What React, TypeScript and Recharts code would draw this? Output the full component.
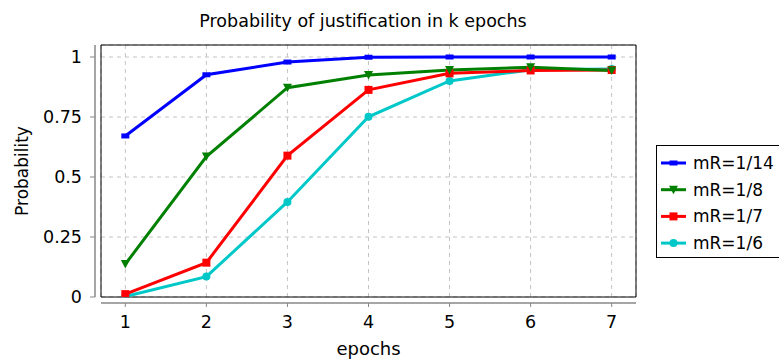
import { LineChart, Line, XAxis, YAxis, CartesianGrid, ReferenceArea } from 'recharts'

const epochs = [1, 2, 3, 4, 5, 6, 7]
const yTicks = [0, 0.25, 0.5, 0.75, 1]

const mR14 = [0.671, 0.926, 0.979, 0.999, 1.0, 1.0, 1.0]
const mR8 = [0.137, 0.585, 0.872, 0.925, 0.946, 0.957, 0.944]
const mR7 = [0.012, 0.143, 0.589, 0.863, 0.932, 0.944, 0.946]
const mR6 = [0.002, 0.085, 0.396, 0.751, 0.9, 0.947, 0.95]

const seriesLabels = ['mR=1/14', 'mR=1/8', 'mR=1/7', 'mR=1/6']

const data = epochs.map((e, i) => ({
  epoch: e,
  mR14: mR14[i],
  mR8: mR8[i],
  mR7: mR7[i],
  mR6: mR6[i],
}))

const font = '"DejaVu Sans", sans-serif'

type Shape = 'bar' | 'tri' | 'square' | 'circle'

function Marker({ cx, cy, color, shape }: { cx: number; cy: number; color: string; shape: Shape }) {
  if (shape === 'bar') return <rect x={cx - 4} y={cy - 2.5} width={8} height={5} fill={color} />
  if (shape === 'tri')
    return <polygon points={`${cx - 4.5},${cy - 4} ${cx + 4.5},${cy - 4} ${cx},${cy + 4.5}`} fill={color} />
  if (shape === 'square') return <rect x={cx - 4} y={cy - 4} width={8} height={8} fill={color} />
  return <circle cx={cx} cy={cy} r={4} fill={color} />
}

const series = [
  { key: 'mR14', label: seriesLabels[0], color: '#0000ff', shape: 'bar' as Shape },
  { key: 'mR8', label: seriesLabels[1], color: '#008000', shape: 'tri' as Shape },
  { key: 'mR7', label: seriesLabels[2], color: '#ff0000', shape: 'square' as Shape },
  { key: 'mR6', label: seriesLabels[3], color: '#00c8c8', shape: 'circle' as Shape },
]

function LegendBox() {
  return (
    <div
      style={{
        position: 'absolute',
        left: 656,
        top: 145,
        width: 124,
        height: 113,
        border: '1px solid #000',
        boxSizing: 'border-box',
        background: '#fff',
      }}
    >
      <svg width={124} height={113}>
        {series.map((s, i) => {
          const cy = 17 + i * 26.7
          return (
            <g key={s.key}>
              <line x1={4} x2={29} y1={cy} y2={cy} stroke={s.color} strokeWidth={3} />
              <Marker cx={16.5} cy={cy} color={s.color} shape={s.shape} />
              <text x={36} y={cy + 6} fontFamily={font} fontSize={17} fill="#000">
                {s.label}
              </text>
            </g>
          )
        })}
      </svg>
    </div>
  )
}

export default function App() {
  // draw last series first so mR=1/14 ends up on top
  const drawOrder = [...series].reverse()
  return (
    <div style={{ position: 'fixed', left: 0, top: 0, width: 779, height: 361, background: '#fff' }}>
      <LineChart width={779} height={361} data={data} margin={{ top: 45, right: 143, bottom: 0, left: 0 }}>
        <text x={363} y={27} textAnchor="middle" fontFamily={font} fontSize={17.5} fill="#000">
          Probability of justification in k epochs
        </text>
        <text
          x={28}
          y={171}
          transform="rotate(-90, 28, 171)"
          textAnchor="middle"
          fontFamily={font}
          fontSize={17}
          fill="#000"
        >
          Probability
        </text>
        <CartesianGrid stroke="#c4c4c4" strokeDasharray="4 4" />
        <XAxis
          dataKey="epoch"
          type="number"
          domain={[0.7, 7.3]}
          ticks={epochs}
          allowDataOverflow
          height={64}
          tickSize={4}
          tickMargin={15}
          axisLine={{ stroke: '#888', strokeWidth: 1.5, transform: 'translate(0,6)' }}
          tickLine={{ stroke: '#888', transform: 'translate(0,6)' }}
          tick={{ fill: '#000', fontFamily: font, fontSize: 17.5 }}
          label={{ value: 'epochs', position: 'insideBottom', offset: 6, fill: '#000', fontFamily: font, fontSize: 18 }}
        />
        <YAxis
          type="number"
          domain={[0, 1.05]}
          ticks={yTicks}
          allowDataOverflow
          width={101}
          tickSize={5}
          tickMargin={14}
          axisLine={{ stroke: '#888', strokeWidth: 1.5, transform: 'translate(-6,0)' }}
          tickLine={{ stroke: '#888', transform: 'translate(-6,0)' }}
          tick={{ fill: '#000', fontFamily: font, fontSize: 17.5 }}
        />
        <ReferenceArea x1={0.7} x2={7.3} y1={0} y2={1.05} fill="none" stroke="#000" strokeWidth={1} ifOverflow="visible" />
        {drawOrder.map((s) => (
          <Line
            key={s.key}
            dataKey={s.key}
            stroke={s.color}
            strokeWidth={3}
            isAnimationActive={false}
            dot={(p: any) => (
              <Marker key={`${s.key}-${p.index}`} cx={p.cx} cy={p.cy} color={s.color} shape={s.shape} />
            )}
            activeDot={false}
          />
        ))}
      </LineChart>
      <LegendBox />
    </div>
  )
}
